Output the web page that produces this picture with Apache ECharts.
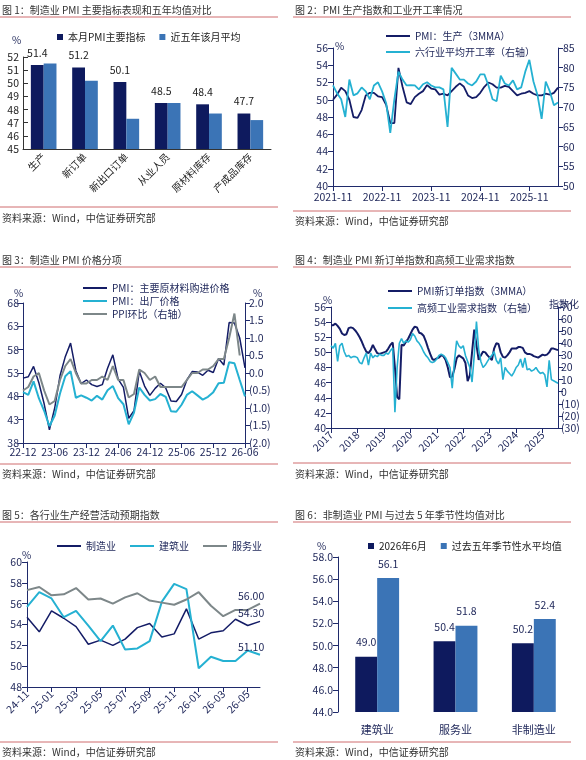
<!DOCTYPE html>
<html><head><meta charset="utf-8">
<script src="https://cdn.jsdelivr.net/npm/echarts@6/dist/echarts.min.js"></script>
<style>
body{margin:0;background:#fff;width:586px;height:760px;position:relative;overflow:hidden}
.p{position:absolute;width:293px}
</style></head><body>
<div class="p" id="c1" style="left:0;top:0;height:250px"></div>
<div class="p" id="c2" style="left:293px;top:0;height:250px"></div>
<div class="p" id="c3" style="left:0;top:250px;height:255px"></div>
<div class="p" id="c4" style="left:293px;top:250px;height:255px"></div>
<div class="p" id="c5" style="left:0;top:505px;height:255px"></div>
<div class="p" id="c6" style="left:293px;top:505px;height:255px"></div>
<script>
// ---- 图1 数据
const cat1 = ['生产','新订单','新出口订单','从业人员','原材料库存','产成品库存']
const pmiMain = [51.4,51.2,50.1,48.5,48.4,47.7]
const pmiAvg5 = [51.5,50.2,47.3,48.5,47.7,47.2]
// ---- 图2 数据 (2021-11 ~ 2026-06)
const pmiProd3m = [50.0,50.6,51.4,51.0,50.0,48.0,47.9,48.8,50.5,50.8,50.8,50.4,50.3,
  49.4,47.3,47.3,53.7,51.5,49.7,49.5,
  50.3,50.7,51.0,51.7,51.3,51.2,50.6,50.7,50.5,51.0,
  51.5,51.9,51.5,50.5,50.2,50.3,50.8,51.5,52.0,51.8,
  51.4,51.4,51.6,51.5,51.0,50.5,50.7,50.8,51.0,50.7,
  50.5,50.5,50.7,50.6,50.8,51.4]
const opRate = [75.5,73.5,72,67.5,77,73,73.5,75,74,72,75.5,76.3,74,71,63.5,72,79,77,75.5,75.6,
  75.5,74.5,75.8,76.3,75.5,75,75,74.5,65,80,78.5,77,77,76,75.5,76.5,78.3,78.3,75.5,72,
  71.5,78,76,75.5,76.8,74.5,75,79,82,76.5,73,67,76.5,74,70.5,71.2]
// ---- 图3 数据 (22-12 ~ 26-06)
const inPrice = [51.9,52.2,54.4,50.9,46.4,40.8,45.5,52.4,56.5,59.4,53.5,50.7,51.5,50.5,50.1,50.5,54.0,56.9,51.7,49.9,
  43.3,44.9,53.4,50.2,48.2,49.7,50.8,49.8,47.0,46.9,48.4,51.5,53.3,53.2,52.5,53.6,53.1,56.1,54.7,63.8,63.7,60.5,54.1]
const outPrice = [48.9,48.3,51.2,47.6,44.9,41.6,43.9,48.6,52.3,53.4,47.7,48.2,47.7,47.1,48.1,47.3,49.3,50.2,47.6,46.3,
  42.0,44.5,49.9,48.3,47.1,47.4,48.5,47.9,44.8,44.7,46.2,48.3,49.1,48.2,47.3,47.9,48.9,50.8,50.9,55.3,55.1,51.5,48.0]
const ppiMom = [-0.5,-0.4,-0.1,0.0,-0.5,-0.9,-0.8,-0.2,0.2,0.4,0.0,-0.3,-0.3,-0.2,-0.2,-0.1,-0.2,0.2,-0.2,-0.2,
  -0.7,-0.6,0.1,0.0,-0.2,-0.1,-0.4,-0.4,-0.4,-0.4,-0.4,-0.2,0.0,0.0,0.1,0.1,0.2,0.4,0.4,1.0,1.7,0.5,null]
// ---- 图4 数据 (2017-01 起, 月度)
const newOrd3m = [53.6,53.6,53.8,53.5,53.1,52.5,52.3,52.4,53.2,53.3,53.2,52.9,
  52.5,52.0,51.4,50.7,50.1,49.9,50.3,51.0,50.4,49.9,49.8,49.9,
  50.0,50.1,50.5,51.0,51.3,48.0,44.1,43.8,51.0,50.9,51.4,51.8,
  52.4,53.0,53.4,53.3,52.6,52.5,52.2,51.5,50.6,49.8,49.1,49.0,
  49.2,49.3,49.6,49.5,49.0,48.0,46.7,46.8,47.8,49.2,49.6,49.4,
  49.2,48.6,46.2,47.0,50.0,53.0,51.0,49.0,49.6,50.1,50.0,49.6,
  49.3,49.0,50.5,51.2,51.1,50.0,49.4,49.3,49.6,50.0,50.5,50.5,
  50.5,50.7,50.7,50.6,50.0,49.8,49.8,49.7,49.5,49.4,49.3,49.5,
  49.7,49.6,49.7,50.0,50.5,50.5,50.4,50.3]
const hfDemand = [38,36,40,25,38,40,33,29,30,28,29,29,
  28,24,23,28,32,22,32,28,30,29,31,30,
  30,32,31,34,36,-17,20,40,44,40,42,41,
  43,48,46,42,40,37,33,30,28,25,24,25,
  27,30,31,30,28,24,20,3,25,42,38,36,
  38,30,25,20,8,30,58,35,25,20,22,25,
  28,30,33,26,23,28,10,20,17,15,13,16,
  20,22,27,20,28,18,19,17,18,20,17,15,
  16,14,4,26,10,9,8,7]
// ---- 图5 数据 (24-11 ~ 26-06)
const expManu = [54.7,53.3,55.3,54.6,53.8,52.1,52.5,52.0,52.6,53.7,54.1,52.8,53.1,55.5,52.6,53.2,53.4,54.5,53.9,54.3]
const expCons = [55.7,57.1,56.5,54.7,55.3,53.9,52.4,53.9,51.6,51.7,52.4,56.2,57.9,57.4,49.8,50.9,50.5,50.5,51.5,51.1]
const expServ = [57.3,57.6,56.8,56.9,57.5,56.4,56.5,56.0,56.6,57.0,56.3,56.1,55.9,56.4,57.1,55.8,54.8,55.4,55.4,56.0]
// ---- 图6 数据
const cat6 = ['建筑业','服务业','非制造业']
const nm2606 = [49.0,50.4,50.2]
const nmAvg5 = [56.1,51.8,52.4]

function months(y, m, n) {
  const out = []
  for (let i = 0; i < n; i++) {
    const yy = y + Math.floor((m - 1 + i) / 12), mm = (m - 1 + i) % 12 + 1
    out.push(yy + '-' + (mm < 10 ? '0' : '') + mm)
  }
  return out
}
const cat2 = months(2021, 11, pmiProd3m.length)
const cat3 = months(2022, 12, inPrice.length)
const cat4 = months(2017, 1, newOrd3m.length)
const cat5 = months(2024, 11, expManu.length)

const FONT = '"Noto Sans CJK SC", "Noto Sans", sans-serif'
const NAVY = '#141c66', CYAN = '#25b1d2', GRAY = '#7d8789', RED = '#cf6d6f'
const AX = '#1f2a6b'
const lbl = { color: '#222a5c', fontSize: 10.5, fontFamily: FONT }
const paren = v => v < 0 ? '(' + Math.abs(v).toFixed(1) + ')' : v.toFixed(1)
const paren0 = v => v < 0 ? '(' + Math.abs(v) + ')' : String(v)

function frame(title, lineY, srcY) {
  return [
    { type: 'text', left: 2, top: 5, style: { text: title, fill: '#333', font: '10px ' + FONT } },
    { type: 'line', shape: { x1: 0, y1: 17, x2: 278, y2: 17 }, style: { stroke: RED, lineWidth: 1 } },
    { type: 'line', shape: { x1: 0, y1: lineY, x2: 278, y2: lineY }, style: { stroke: RED, lineWidth: 1 } },
    { type: 'text', left: 2, top: srcY, style: { text: '资料来源：Wind，中信证券研究部', fill: '#333', font: '10px ' + FONT } }
  ]
}
function txt(x, y, t, size) {
  return { type: 'text', left: x, top: y, style: { text: t, fill: '#222a5c', font: (size || 10) + 'px ' + FONT } }
}
function line(name, data, color, yIdx, w) {
  return { name: name, type: 'line', data: data, yAxisIndex: yIdx || 0, symbol: 'none',
    lineStyle: { color: color, width: w || 1.8 }, itemStyle: { color: color } }
}
const legendBase = { itemWidth: 24, itemHeight: 2, textStyle: { color: '#222a5c', fontSize: 10, fontFamily: FONT }, icon: 'rect' }
const xLine = { onZero: false, lineStyle: { color: AX } }

// 图1
echarts.init(document.getElementById('c1')).setOption({
  animation: false,
  graphic: frame('图 1：制造业 PMI 主要指标表现和五年均值对比', 207, 213).concat([txt(12, 35, '%')]),
  legend: { top: 27, left: 52, itemWidth: 6, itemHeight: 6, icon: 'rect', itemGap: 14,
    textStyle: { color: '#222', fontSize: 10, fontFamily: FONT } },
  grid: { left: 23, right: 22, top: 57, bottom: 101 },
  xAxis: { type: 'category', data: cat1, axisLine: { onZero: false, lineStyle: { color: '#333' } }, axisTick: { show: false },
    axisLabel: { rotate: 45, color: '#222', fontSize: 10, fontFamily: FONT, margin: 6 } },
  yAxis: { type: 'value', min: 45, max: 52, interval: 1, splitLine: { show: false },
    axisLine: { show: true, lineStyle: { color: '#333' } }, axisTick: { show: true, inside: true },
    axisLabel: { color: '#222', fontSize: 10.5, fontFamily: FONT, margin: 4 } },
  series: [
    { name: '本月PMI主要指标', type: 'bar', data: pmiMain, barGap: '0%', barCategoryGap: '38%', itemStyle: { color: '#0e1a5e' },
      label: { show: true, position: 'top', distance: 7, color: '#222', fontSize: 10.5, fontFamily: FONT } },
    { name: '近五年该月平均', type: 'bar', data: pmiAvg5, itemStyle: { color: '#3b74b6' } }
  ]
})

// 图2
echarts.init(document.getElementById('c2')).setOption({
  animation: false,
  graphic: frame('图 2：PMI 生产指数和工业开工率情况', 211, 216).concat([txt(42, 41, '%')]),
  legend: [
    Object.assign({ top: 26, left: 88, data: ['PMI：生产（3MMA）'] }, legendBase),
    Object.assign({ top: 42, left: 88, data: ['六行业平均开工率（右轴）'] }, legendBase)
  ],
  grid: { left: 40, right: 28, top: 48, bottom: 64 },
  xAxis: { type: 'category', data: cat2, boundaryGap: false, axisLine: xLine,
    axisTick: { interval: 11, lineStyle: { color: AX } },
    axisLabel: Object.assign({ interval: 11, margin: 6 }, lbl) },
  yAxis: [
    { type: 'value', min: 40, max: 56, interval: 2, splitLine: { show: false },
      axisLine: { show: true, lineStyle: { color: AX } }, axisTick: { show: true, lineStyle: { color: AX } }, axisLabel: Object.assign({ margin: 5 }, lbl) },
    { type: 'value', min: 50, max: 85, interval: 5, splitLine: { show: false },
      axisLine: { show: true, lineStyle: { color: AX } }, axisTick: { show: true, lineStyle: { color: AX } }, axisLabel: Object.assign({ margin: 5 }, lbl) }
  ],
  series: [line('PMI：生产（3MMA）', pmiProd3m, NAVY, 0), line('六行业平均开工率（右轴）', opRate, CYAN, 1)]
})

// 图3
echarts.init(document.getElementById('c3')).setOption({
  animation: false,
  graphic: frame('图 3：制造业 PMI 价格分项', 214, 219).concat([txt(14, 38, '%'), txt(253, 38, '%')]),
  legend: [
    Object.assign({ top: 28, left: 78, data: ['PMI：主要原材料购进价格'] }, legendBase),
    Object.assign({ top: 41, left: 78, data: ['PMI：出厂价格'] }, legendBase),
    Object.assign({ top: 54, left: 78, data: ['PPI环比（右轴）'] }, legendBase)
  ],
  grid: { left: 23, right: 48, top: 53, bottom: 62 },
  xAxis: { type: 'category', data: cat3, boundaryGap: false, axisLine: xLine,
    axisTick: { interval: 5, lineStyle: { color: AX } },
    axisLabel: Object.assign({ interval: 5, margin: 4, formatter: v => v.slice(2) }, lbl) },
  yAxis: [
    { type: 'value', min: 38, max: 68, interval: 5, splitLine: { show: false },
      axisLine: { show: true, lineStyle: { color: AX } }, axisTick: { show: true, lineStyle: { color: AX } }, axisLabel: Object.assign({ margin: 4 }, lbl) },
    { type: 'value', min: -2, max: 2, interval: 0.5, splitLine: { show: false },
      axisLine: { show: true, lineStyle: { color: AX } }, axisTick: { show: true, lineStyle: { color: AX } },
      axisLabel: Object.assign({ margin: 4, formatter: paren }, lbl) }
  ],
  series: [line('PMI：主要原材料购进价格', inPrice, NAVY, 0, 1.5), line('PMI：出厂价格', outPrice, CYAN, 0, 2),
    line('PPI环比（右轴）', ppiMom, GRAY, 1, 2)]
})

// 图4
echarts.init(document.getElementById('c4')).setOption({
  animation: false,
  graphic: frame('图 4：制造业 PMI 新订单指数和高频工业需求指数', 213, 219).concat([txt(30, 45, '%'), txt(256, 49, '指数化')]),
  legend: [
    Object.assign({ top: 31, left: 90, data: ['PMI新订单指数（3MMA）'] }, legendBase),
    Object.assign({ top: 48, left: 90, data: ['高频工业需求指数（右轴）'] }, legendBase)
  ],
  grid: { left: 38, right: 28, top: 57, bottom: 77 },
  xAxis: { type: 'category', data: cat4, boundaryGap: false, axisLine: xLine,
    axisTick: { interval: 11, lineStyle: { color: AX } },
    axisLabel: Object.assign({ interval: 11, rotate: 45, margin: 5, formatter: v => v.slice(0, 4) }, lbl) },
  yAxis: [
    { type: 'value', min: 40, max: 56, interval: 2, splitLine: { show: false },
      axisLine: { show: true, lineStyle: { color: AX } }, axisTick: { show: true, lineStyle: { color: AX } }, axisLabel: Object.assign({ margin: 5 }, lbl) },
    { type: 'value', min: -30, max: 70, interval: 10, splitLine: { show: false },
      axisLine: { show: true, lineStyle: { color: AX } }, axisTick: { show: true, lineStyle: { color: AX } },
      axisLabel: Object.assign({ margin: 3, formatter: paren0 }, lbl) }
  ],
  series: [line('PMI新订单指数（3MMA）', newOrd3m, NAVY, 0, 2), line('高频工业需求指数（右轴）', hfDemand, CYAN, 1, 1.6)]
})

// 图5
const s5 = [line('制造业', expManu, NAVY, 0, 1.5), line('建筑业', expCons, CYAN, 0, 2), line('服务业', expServ, GRAY, 0, 2)]
s5.forEach(s => { s.endLabel = { show: true, offset: [-30, -8], color: '#222a5c', fontSize: 10.5, fontFamily: FONT, formatter: p => p.value.toFixed(2) } })
echarts.init(document.getElementById('c5')).setOption({
  animation: false,
  graphic: frame('图 5：各行业生产经营活动预期指数', 237, 242).concat([txt(22, 45, '%')]),
  legend: Object.assign({ top: 31, left: 52, itemGap: 14 }, legendBase),
  grid: { left: 27, right: 33, top: 57, bottom: 73 },
  xAxis: { type: 'category', data: cat5, boundaryGap: false, axisLine: xLine,
    axisTick: { interval: 1, lineStyle: { color: AX } },
    axisLabel: Object.assign({ interval: 1, rotate: 45, margin: 5, formatter: v => v.slice(2) }, lbl) },
  yAxis: { type: 'value', min: 48, max: 60, interval: 2, splitLine: { show: false },
    axisLine: { show: true, lineStyle: { color: AX } }, axisTick: { show: true, lineStyle: { color: AX } }, axisLabel: Object.assign({ margin: 5 }, lbl) },
  series: s5
})

// 图6
echarts.init(document.getElementById('c6')).setOption({
  animation: false,
  graphic: frame('图 6：非制造业 PMI 与过去 5 年季节性均值对比', 237, 242).concat([txt(24, 36, '%')]),
  legend: { top: 31, left: 70, itemWidth: 6, itemHeight: 6, icon: 'rect', itemGap: 14,
    textStyle: { color: '#222', fontSize: 10, fontFamily: FONT } },
  grid: { left: 45, right: 13, top: 52, bottom: 48 },
  xAxis: { type: 'category', data: cat6, axisLine: { show: false }, axisTick: { show: false },
    axisLabel: Object.assign({ margin: 12 }, lbl, { fontSize: 11 }) },
  yAxis: { type: 'value', min: 44, max: 58, interval: 2, splitLine: { show: false },
    axisLine: { show: true, lineStyle: { color: AX } }, axisTick: { show: true, lineStyle: { color: AX } },
    axisLabel: Object.assign({ margin: 5, formatter: v => v.toFixed(1) }, lbl) },
  series: [
    { name: '2026年6月', type: 'bar', data: nm2606, barGap: '0%', barCategoryGap: '44%', itemStyle: { color: '#0e1a5e' },
      label: { show: true, position: 'top', distance: 9, color: '#222a5c', fontSize: 10.5, fontFamily: FONT, formatter: p => p.value.toFixed(1) } },
    { name: '过去五年季节性水平均值', type: 'bar', data: nmAvg5, itemStyle: { color: '#3b74b6' },
      label: { show: true, position: 'top', distance: 9, color: '#222a5c', fontSize: 10.5, fontFamily: FONT, formatter: p => p.value.toFixed(1) } }
  ]
})
</script>
</body></html>
